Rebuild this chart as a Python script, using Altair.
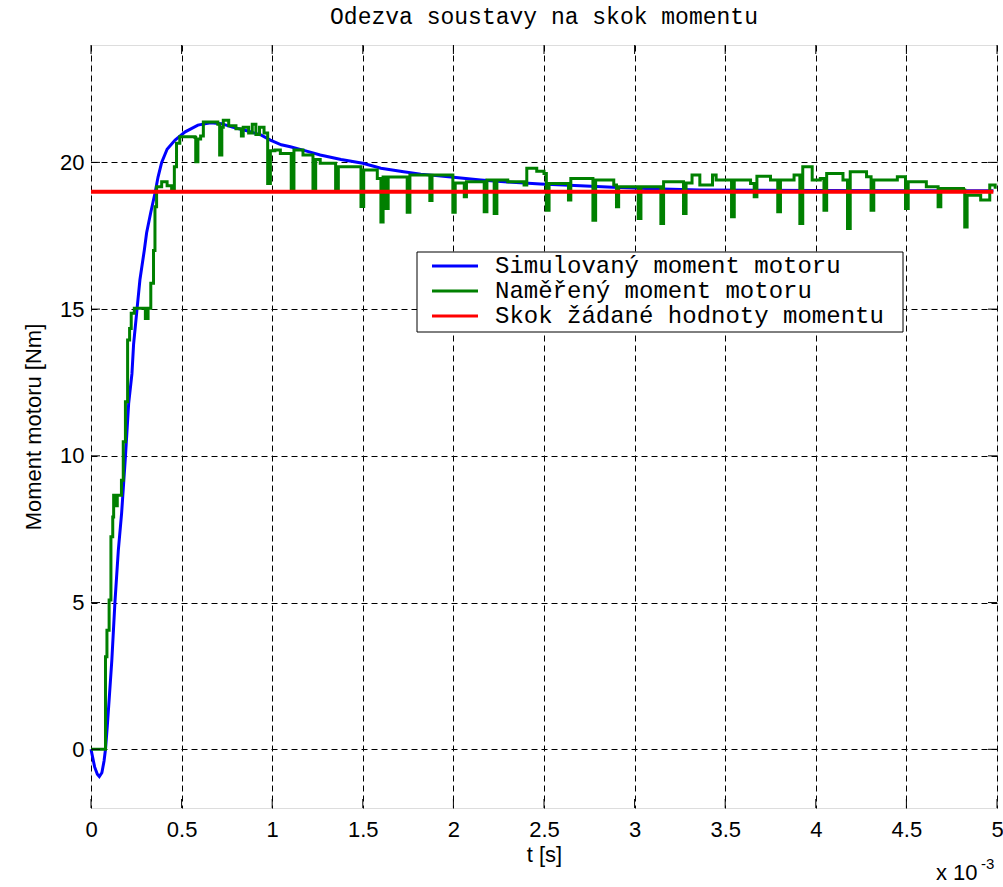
import altair as alt
import pandas as pd

# ---------------- data ----------------
x_ticks = [0, 0.5, 1, 1.5, 2, 2.5, 3, 3.5, 4, 4.5, 5]
y_ticks = [0, 5, 10, 15, 20]

sim_t = [0, 0.02, 0.035, 0.046, 0.06, 0.072, 0.08, 0.09, 0.1, 0.115, 0.132, 0.151,
         0.169, 0.19, 0.208, 0.226, 0.235, 0.254, 0.27, 0.294, 0.307, 0.33, 0.353,
         0.37, 0.39, 0.42, 0.464, 0.52, 0.59, 0.66, 0.72, 0.78, 0.86, 0.94, 0.99,
         1.05, 1.1, 1.18, 1.265, 1.38, 1.5, 1.6, 1.725, 1.82, 2.0, 2.15, 2.3, 2.48,
         2.7, 2.88, 3.1, 3.36, 3.7, 4.0, 4.5, 4.98]
sim_y = [0, -0.6, -0.85, -0.93, -0.8, -0.4, 0.0, 0.8, 1.68, 3.04, 5.0, 6.8,
         8.05, 9.97, 11.8, 12.8, 13.8, 15.0, 16.0, 17.0, 17.6, 18.3, 18.95,
         19.5, 20.0, 20.45, 20.76, 21.04, 21.27, 21.35, 21.32, 21.2, 21.08, 20.93, 20.76,
         20.6, 20.53, 20.4, 20.25, 20.1, 19.97, 19.8, 19.68, 19.6, 19.49, 19.4, 19.33, 19.26,
         19.2, 19.15, 19.1, 19.06, 19.05, 19.04, 19.03, 19.03]

meas_t = [0, 0.08, 0.088, 0.1, 0.11, 0.12, 0.125, 0.14, 0.145, 0.168, 0.178, 0.19,
          0.202, 0.213, 0.222, 0.239, 0.3, 0.315, 0.33, 0.345, 0.353, 0.362, 0.39,
          0.42, 0.445, 0.46, 0.472, 0.49, 0.574, 0.578, 0.59, 0.605, 0.62, 0.7, 0.71,
          0.722, 0.73, 0.76, 0.8, 0.83, 0.84, 0.87, 0.89, 0.91, 0.93, 0.955, 0.975,
          0.99, 1.015, 1.045, 1.105, 1.12, 1.17, 1.225, 1.24, 1.265, 1.35, 1.365,
          1.49, 1.505, 1.58, 1.6, 1.612, 1.628, 1.64, 1.745, 1.76, 1.87, 1.882,
          1.997, 2.01, 2.06, 2.072, 2.17, 2.185, 2.225, 2.24, 2.3, 2.39, 2.405,
          2.46, 2.5, 2.513, 2.528, 2.635, 2.648, 2.77, 2.785, 2.885, 2.9, 2.912,
          3.02, 3.035, 3.145, 3.16, 3.27, 3.284, 3.317, 3.36, 3.43, 3.45, 3.535,
          3.55, 3.64, 3.66, 3.675, 3.75, 3.79, 3.805, 3.88, 3.912, 3.928, 3.98,
          4.025, 4.045, 4.06, 4.15, 4.175, 4.19, 4.28, 4.305, 4.32, 4.45, 4.495,
          4.51, 4.61, 4.675, 4.69, 4.815, 4.822, 4.835, 4.91, 4.96, 4.99]
meas_y = [0, 3.15, 4.06, 5.09, 7.24, 7.92, 8.66, 8.3, 8.66, 9.17, 10.48, 11.84,
          13.95, 14.34, 14.86, 15.03, 14.68, 15.03, 15.88, 17.0, 18.49, 19.17, 19.34,
          19.2, 19.06, 19.85, 20.65, 20.87, 20.85, 20.02, 20.8, 20.9, 21.38, 21.3, 20.25,
          21.2, 21.44, 21.25, 21.15, 20.9, 21.2, 21.0, 21.3, 20.95, 21.2, 21.0, 19.28,
          20.4, 20.42, 20.3, 19.06, 20.42, 20.25, 19.06, 20.1, 19.97, 19.06, 19.85,
          18.5, 19.74, 19.45, 17.97, 19.5, 18.43, 19.5, 18.3, 19.57, 18.7, 19.57,
          18.3, 19.3, 18.83, 19.34, 18.32, 19.4, 18.26, 19.4, 19.34, 19.23, 19.8,
          19.7, 19.62, 18.37, 19.28, 18.72, 19.45, 18.03, 19.4, 19.23, 18.49, 19.17,
          18.09, 19.17, 17.92, 19.34, 18.26, 19.3, 19.57, 19.23, 19.57, 19.4, 18.15,
          19.4, 19.28, 18.83, 19.53, 19.4, 18.32, 19.4, 19.57, 17.92, 19.85, 19.4,
          19.45, 18.37, 19.62, 19.4, 17.75, 19.68, 19.51, 18.37, 19.4, 19.51, 18.43,
          19.34, 19.17, 18.49, 19.11, 19.06, 17.8, 18.88, 18.72, 19.23, 19.1]

ref_t = [0, 4.98]
ref_y = [19, 19]

legend_labels = ["Simulovaný moment motoru", "Naměřený moment motoru",
                 "Skok žádané hodnoty momentu"]
legend_colors = ["#0000ff", "#008000", "#ff0000"]

# ---------------- layout ----------------
W, H = 906, 763
SANS = "Liberation Sans"
MONO = "Liberation Mono"

xs = alt.Scale(domain=[0, 5], nice=False, zero=False)
ys = alt.Scale(domain=[-2, 24], nice=False, zero=False)

x_axis = alt.Axis(values=x_ticks, format="~g", grid=True, gridDash=[6, 4],
                  gridColor="black", gridWidth=1, gridOpacity=1, ticks=False,
                  domain=False, labelPadding=11, labelFont=SANS, labelFontSize=22,
                  labelColor="black", labelFlush=False, title="t [s]",
                  titleFont=SANS, titleFontSize=22, titleFontWeight="normal",
                  titleColor="black", titlePadding=4)
y_axis = alt.Axis(values=y_ticks, grid=True, gridDash=[6, 4], gridColor="black",
                  gridWidth=1, gridOpacity=1, ticks=False, domain=False,
                  labelPadding=7, labelFont=SANS, labelFontSize=22, labelColor="black",
                  labelFlush=False, title="Moment motoru [Nm]", titleFont=SANS,
                  titleFontSize=22, titleFontWeight="normal", titleColor="black",
                  titlePadding=14)

sim_df = pd.DataFrame({"t": sim_t, "y": sim_y})
meas_df = pd.DataFrame({"t": meas_t, "y": meas_y})
ref_df = pd.DataFrame({"t": ref_t, "y": ref_y})

sim = alt.Chart(sim_df).mark_line(color="#0000ff", strokeWidth=3).encode(
    x=alt.X("t:Q", scale=xs, axis=x_axis),
    y=alt.Y("y:Q", scale=ys, axis=y_axis),
)
meas = alt.Chart(meas_df).mark_line(color="#008000", strokeWidth=3,
                                    interpolate="step-after").encode(
    x=alt.X("t:Q", scale=xs), y=alt.Y("y:Q", scale=ys))
ref = alt.Chart(ref_df).mark_line(color="#ff0000", strokeWidth=4).encode(
    x=alt.X("t:Q", scale=xs), y=alt.Y("y:Q", scale=ys))

# inward ticks (MATLAB style)
xt_df = pd.DataFrame({"t": x_ticks})
yt_df = pd.DataFrame({"v": y_ticks})
TK = 9
xt_bot = alt.Chart(xt_df).mark_rule(color="black", strokeWidth=1).encode(
    x=alt.X("t:Q", scale=xs), y=alt.value(H), y2=alt.value(H - TK))
xt_top = alt.Chart(xt_df).mark_rule(color="black", strokeWidth=1).encode(
    x=alt.X("t:Q", scale=xs), y=alt.value(0), y2=alt.value(TK))
yt_left = alt.Chart(yt_df).mark_rule(color="black", strokeWidth=1).encode(
    y=alt.Y("v:Q", scale=ys), x=alt.value(0), x2=alt.value(TK))
yt_right = alt.Chart(yt_df).mark_rule(color="black", strokeWidth=1).encode(
    y=alt.Y("v:Q", scale=ys), x=alt.value(W), x2=alt.value(W - TK))

# legend
LX0, LX1, LY0, LY1 = 326, 812, 207, 287
leg_df = pd.DataFrame({"label": legend_labels, "color": legend_colors,
                       "row": [LY0 + 14 + 25 * i for i in range(3)]})
leg_box = alt.Chart(pd.DataFrame({"a": [0]})).mark_rect(
    fill="white", stroke="black", strokeWidth=1).encode(
    x=alt.value(LX0), x2=alt.value(LX1), y=alt.value(LY0), y2=alt.value(LY1))
leg_lines = alt.Chart(leg_df).mark_rule(strokeWidth=3).encode(
    y=alt.Y("row:Q", scale=None), x=alt.value(341), x2=alt.value(387),
    color=alt.Color("color:N", scale=None, legend=None))
leg_text = alt.Chart(leg_df).mark_text(
    font=MONO, fontSize=24, align="left", baseline="middle", color="black").encode(
    y=alt.Y("row:Q", scale=None), x=alt.value(404), text="label:N")

# x 10^-3 multiplier
mult = alt.Chart(pd.DataFrame({"a": [0]})).mark_text(
    font=SANS, fontSize=22, align="left", baseline="alphabetic", color="black").encode(
    x=alt.value(845), y=alt.value(835), text=alt.value("x 10"))
mult_exp = alt.Chart(pd.DataFrame({"a": [0]})).mark_text(
    font=SANS, fontSize=15, align="left", baseline="alphabetic", color="black").encode(
    x=alt.value(890), y=alt.value(824), text=alt.value("-3"))

chart = alt.layer(
    sim, meas, ref, xt_bot, xt_top, yt_left, yt_right,
    leg_box, leg_lines, leg_text, mult, mult_exp
).properties(
    width=W, height=H,
    padding={"left": 91, "top": 45, "right": 6, "bottom": 79},
    autosize=alt.AutoSizeParams(type="none"),
    title=alt.TitleParams("Odezva soustavy na skok momentu", font=MONO, fontSize=23,
                          fontWeight="normal", color="black", anchor="middle",
                          offset=16),
).configure_view(stroke="black", strokeWidth=1).configure(background="white")

chart.save("out.html", embed_options={"renderer": "svg", "actions": False})
